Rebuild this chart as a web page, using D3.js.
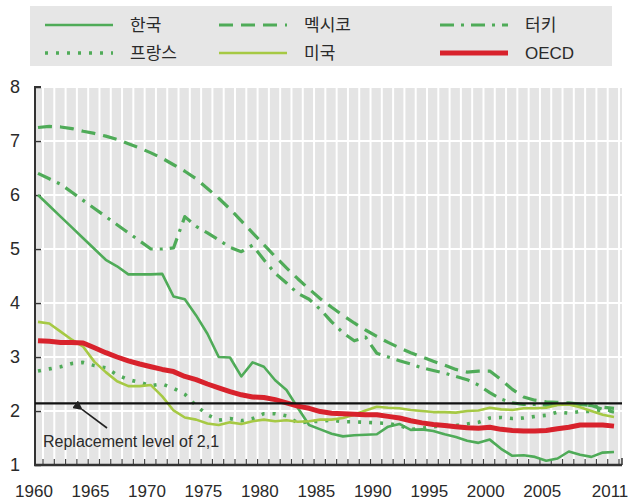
<!DOCTYPE html>
<html>
<head>
<meta charset="utf-8">
<script src="https://cdn.jsdelivr.net/npm/d3@7"></script>
<style>
  body { margin: 0; background: #fff; }
  text { font-family: "Liberation Sans", Arial, sans-serif; fill: #2a2a2a; }
  .ko { font-family: "Noto Sans CJK KR", "Noto Sans", sans-serif; }
</style>
</head>
<body>
<div id="chart"></div>
<script>
// Data
const years = d3.range(1960, 2012);
const korea = [6.0, 5.8, 5.6, 5.4, 5.2, 5.0, 4.8, 4.68, 4.53, 4.53, 4.53, 4.54, 4.12, 4.07, 3.77, 3.43, 3.0, 2.99, 2.64, 2.9, 2.82, 2.57, 2.39, 2.06, 1.74, 1.66, 1.58, 1.53, 1.55, 1.56, 1.57, 1.71, 1.76, 1.65, 1.66, 1.63, 1.57, 1.52, 1.45, 1.41, 1.47, 1.3, 1.17, 1.18, 1.15, 1.08, 1.12, 1.25, 1.19, 1.15, 1.23, 1.24];
const mexico = [7.25, 7.27, 7.26, 7.23, 7.18, 7.14, 7.09, 7.03, 6.95, 6.87, 6.78, 6.68, 6.56, 6.44, 6.3, 6.12, 5.94, 5.74, 5.52, 5.3, 5.08, 4.86, 4.65, 4.45, 4.26, 4.08, 3.92, 3.77, 3.63, 3.5, 3.38, 3.27, 3.17, 3.08, 3.0, 2.92, 2.85, 2.77, 2.72, 2.74, 2.74, 2.58, 2.4, 2.26, 2.2, 2.17, 2.16, 2.15, 2.13, 2.1, 2.03, 1.98];
const turkey = [6.4, 6.3, 6.2, 6.05, 5.9, 5.75, 5.6, 5.45, 5.3, 5.15, 5.0, 5.0, 5.02, 5.6, 5.42, 5.3, 5.17, 5.03, 4.95, 5.07, 4.8, 4.55, 4.37, 4.18, 4.07, 3.88, 3.65, 3.45, 3.3, 3.37, 3.07, 3.0, 2.93, 2.87, 2.8, 2.75, 2.7, 2.64, 2.58, 2.48, 2.34, 2.22, 2.15, 2.12, 2.12, 2.11, 2.12, 2.13, 2.12, 2.1, 2.07, 2.05];
const france = [2.74, 2.78, 2.82, 2.88, 2.9, 2.84, 2.8, 2.67, 2.58, 2.53, 2.47, 2.5, 2.42, 2.31, 2.1, 1.93, 1.83, 1.86, 1.82, 1.86, 1.95, 1.95, 1.91, 1.78, 1.8, 1.81, 1.83, 1.8, 1.8, 1.79, 1.78, 1.77, 1.73, 1.66, 1.68, 1.71, 1.73, 1.73, 1.76, 1.79, 1.87, 1.88, 1.86, 1.87, 1.9, 1.92, 1.98, 1.96, 1.99, 1.99, 2.02, 2.01];
const usa = [3.65, 3.62, 3.47, 3.32, 3.19, 2.91, 2.72, 2.55, 2.46, 2.46, 2.48, 2.27, 2.01, 1.88, 1.84, 1.77, 1.74, 1.79, 1.76, 1.81, 1.84, 1.81, 1.83, 1.8, 1.81, 1.84, 1.84, 1.87, 1.93, 2.01, 2.08, 2.06, 2.05, 2.02, 2.0, 1.98, 1.98, 1.97, 2.0, 2.01, 2.06, 2.03, 2.02, 2.05, 2.05, 2.06, 2.11, 2.12, 2.07, 2.0, 1.93, 1.89];
const oecd = [3.3, 3.29, 3.27, 3.27, 3.26, 3.17, 3.08, 3.0, 2.93, 2.87, 2.82, 2.77, 2.73, 2.64, 2.58, 2.5, 2.43, 2.36, 2.3, 2.26, 2.25, 2.21, 2.15, 2.09, 2.05, 1.99, 1.96, 1.95, 1.94, 1.93, 1.93, 1.9, 1.87, 1.82, 1.78, 1.75, 1.73, 1.71, 1.69, 1.68, 1.7, 1.66, 1.64, 1.63, 1.63, 1.64, 1.67, 1.7, 1.74, 1.74, 1.74, 1.72];
const replacementLevel = 2.14;
const yTicks = [1, 2, 3, 4, 5, 6, 7, 8];
const xTickLabels = [1960, 1965, 1970, 1975, 1980, 1985, 1990, 1995, 2000, 2005, 2011];

const green = "#4fab58";
const series = [
  { name: "한국", values: korea, color: green, width: 2.6, dash: null },
  { name: "멕시코", values: mexico, color: green, width: 3.2, dash: "14,8" },
  { name: "터키", values: turkey, color: green, width: 3.2, dash: "14,7,3,7" },
  { name: "프랑스", values: france, color: green, width: 3.6, dash: "3,8" },
  { name: "미국", values: usa, color: "#a6c944", width: 2.6, dash: null },
  { name: "OECD", values: oecd, color: "#d8222c", width: 5, dash: null },
];

// Dimensions
const width = 628, height = 500;
const plot = { left: 35, right: 622, top: 87, bottom: 465 };

const svg = d3.select("#chart").append("svg").attr("width", width).attr("height", height);

// Legend
const legend = svg.append("g");
legend.append("rect").attr("x", 30).attr("y", 6).attr("width", 582).attr("height", 60).attr("fill", "#e6e6e6");
const colX = [45, 219, 440], rowY = [25, 53];
series.forEach((s, i) => {
  const cx = colX[i % 3], cy = rowY[Math.floor(i / 3)];
  legend.append("line")
    .attr("x1", cx).attr("x2", cx + 68).attr("y1", cy).attr("y2", cy)
    .attr("stroke", s.color).attr("stroke-width", s.width)
    .attr("stroke-dasharray", s.dash);
  legend.append("text").attr("class", s.name === "OECD" ? "" : "ko")
    .attr("x", cx + 85).attr("y", cy).attr("dy", "0.36em")
    .style("font-size", "17px").text(s.name);
});

// Scales
const xScale = d3.scaleLinear().domain([1960, 2011]).range([38, 614]);
const yScale = d3.scaleLinear().domain([1, 8]).range([plot.bottom, plot.top]);

// Background grid
svg.append("rect")
  .attr("x", plot.left).attr("y", plot.top)
  .attr("width", plot.right - plot.left).attr("height", plot.bottom - plot.top)
  .attr("fill", "#e4e4e4");

const tickYears = years.filter((y) => xScale(y) + 5 < plot.right);
svg.append("g").selectAll("line").data(tickYears).join("line")
  .attr("x1", (d) => xScale(d) + 5).attr("x2", (d) => xScale(d) + 5)
  .attr("y1", plot.top).attr("y2", plot.bottom)
  .attr("stroke", "#fff").attr("stroke-width", 2);

svg.append("g").selectAll("line").data(yTicks.slice(1)).join("line")
  .attr("x1", plot.left).attr("x2", plot.right)
  .attr("y1", (d) => yScale(d)).attr("y2", (d) => yScale(d))
  .attr("stroke", "#fff").attr("stroke-width", 2);

// Axes
const leftAxis = d3.axisRight(yScale).tickValues(yTicks).tickSize(6).tickFormat("");
svg.append("g").attr("transform", `translate(${plot.left},0)`).call(leftAxis)
  .call((g) => g.select(".domain").attr("stroke", "#333").attr("stroke-width", 2).attr("d", `M6,${plot.top}H0V${plot.bottom}`))
  .call((g) => g.selectAll(".tick line").attr("stroke", "#333").attr("stroke-width", 1.5));

svg.append("g").selectAll("text").data(yTicks).join("text")
  .attr("x", 15).attr("y", (d) => yScale(d)).attr("dy", "0.36em")
  .attr("text-anchor", "middle").style("font-size", "18px").text((d) => d);

// Bottom axis with year ticks
const bottom = svg.append("g");
bottom.selectAll("line").data(tickYears).join("line")
  .attr("x1", (d) => xScale(d) + 5).attr("x2", (d) => xScale(d) + 5)
  .attr("y1", plot.bottom).attr("y2", plot.bottom - 6)
  .attr("stroke", "#444").attr("stroke-width", 1.2);
bottom.append("line")
  .attr("x1", plot.left - 1).attr("x2", plot.right).attr("y1", plot.bottom).attr("y2", plot.bottom)
  .attr("stroke", "#333").attr("stroke-width", 2.5);
bottom.append("line")
  .attr("x1", plot.right).attr("x2", plot.right).attr("y1", plot.bottom).attr("y2", plot.bottom - 7)
  .attr("stroke", "#333").attr("stroke-width", 1.5);
bottom.selectAll("text").data(xTickLabels).join("text")
  .attr("x", (d) => xScale(d) - 4).attr("y", 497)
  .attr("text-anchor", "middle").style("font-size", "17px").text((d) => d);

// Lines
const line = d3.line().x((d, i) => xScale(years[i])).y((d) => yScale(d));
svg.append("g").selectAll("path").data(series).join("path")
  .attr("d", (s) => line(s.values))
  .attr("fill", "none")
  .attr("stroke", (s) => s.color)
  .attr("stroke-width", (s) => s.width)
  .attr("stroke-dasharray", (s) => s.dash)
  .attr("stroke-linejoin", "round");

// Replacement level
svg.append("line")
  .attr("x1", plot.left).attr("x2", plot.right)
  .attr("y1", yScale(replacementLevel)).attr("y2", yScale(replacementLevel))
  .attr("stroke", "#111").attr("stroke-width", 2.2);

svg.append("defs").append("marker")
  .attr("id", "arrow").attr("viewBox", "0 0 10 10").attr("refX", 1).attr("refY", 5)
  .attr("markerWidth", 6).attr("markerHeight", 6).attr("orient", "auto-start-reverse")
  .append("path").attr("d", "M10,0L0,5L10,10Z").attr("fill", "#222");
svg.append("line")
  .attr("x1", 107).attr("y1", 428).attr("x2", 82).attr("y2", yScale(replacementLevel) + 6)
  .attr("stroke", "#222").attr("stroke-width", 1.6)
  .attr("marker-end", "url(#arrow)");

svg.append("text").attr("x", 43).attr("y", 447).style("font-size", "16px").text("Replacement level of 2,1");
</script>
</body>
</html>
